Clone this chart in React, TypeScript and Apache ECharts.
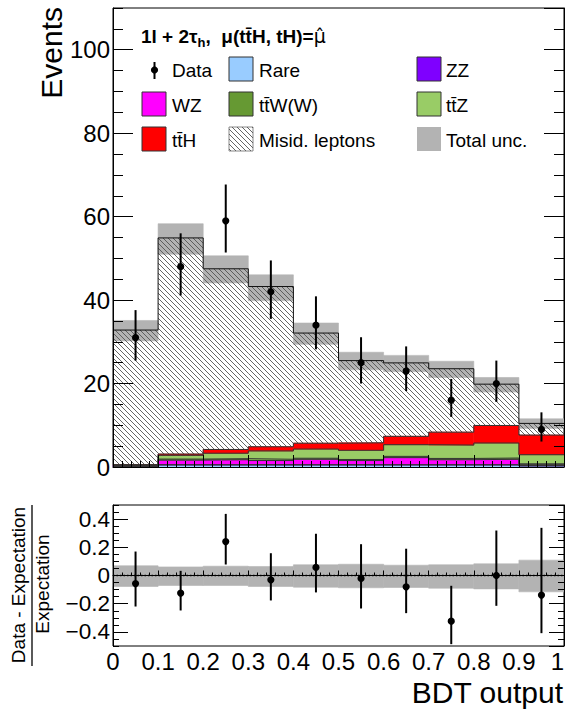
import React, { useEffect, useRef } from 'react';
import * as echarts from 'echarts';

// ---------------- data ----------------
const binEdges = [0, 0.1, 0.2, 0.3, 0.4, 0.5, 0.6, 0.7, 0.8, 0.9, 1.0];

// stacked backgrounds (bottom -> top)
const rare = [0.1, 0.5, 0.5, 0.5, 0.5, 0.5, 0.5, 0.5, 0.5, 0.25];
const zz = [0.05, 0.05, 0.05, 0.05, 0.05, 0.05, 0.05, 0.05, 0.05, 0.1];
const wz = [0.25, 1.1, 1.2, 1.0, 1.3, 1.0, 1.7, 1.2, 1.3, 0.3];
const ttw = [0.05, 0.25, 0.25, 0.3, 0.25, 0.25, 0.3, 0.3, 0.3, 0.1];
const ttz = [0.05, 0.9, 1.3, 2.0, 2.2, 2.2, 2.8, 3.2, 3.6, 2.2];
const tth = [0.02, 0.3, 0.9, 1.0, 1.4, 1.8, 2.0, 3.1, 4.2, 4.7];
const misid = [32.3, 51.8, 43.3, 38.4, 26.4, 19.7, 17.6, 15.2, 9.9, 2.8];

// total uncertainty on the expectation (events)
const uncUp = [2.3, 3.4, 3.1, 2.8, 2.4, 2.0, 1.8, 1.8, 1.6, 1.1];
const uncDown = [2.6, 3.9, 3.4, 3.4, 2.7, 2.2, 2.1, 2.1, 1.9, 1.2];

// observed data
const dataObs = [31, 48, 59, 42, 34, 25, 23, 16, 20, 9];
const dataErrLow = [5.5, 6.9, 7.6, 6.5, 5.8, 5.0, 4.8, 4.0, 4.4, 2.9];
const dataErrHigh = [6.6, 8.0, 8.7, 7.5, 6.9, 6.1, 5.9, 5.1, 5.5, 4.1];

// ratio panel: (data - expectation) / expectation
const ratioVal = [-0.057, -0.125, 0.241, -0.031, 0.057, -0.021, -0.08, -0.324, 0.0, -0.139];
const ratioHi = [0.17, 0.033, 0.437, 0.158, 0.296, 0.222, 0.19, -0.073, 0.319, 0.338];
const ratioLo = [-0.22, -0.248, 0.078, -0.177, -0.12, -0.234, -0.267, -0.487, -0.215, -0.409];
const ratioBandUp = [0.069, 0.061, 0.066, 0.064, 0.076, 0.08, 0.073, 0.076, 0.083, 0.109];
const ratioBandDown = [0.078, 0.071, 0.071, 0.078, 0.083, 0.087, 0.085, 0.09, 0.095, 0.116];

const layerNames = ['Rare', 'ZZ', 'WZ', 'ttW', 'ttZ', 'ttH', 'Misid'];
const layerValues = [rare, zz, wz, ttw, ttz, tth, misid];
const layerColors = ['#99ccff', '#7f00ff', '#ff00ff', '#669933', '#99cc66', '#ff0000', 'HATCH'];

const FONT = '"Liberation Sans", Arial, Helvetica, sans-serif';
const BAND = '#b3b3b3';

function makeHatch(): HTMLCanvasElement {
  const c = document.createElement('canvas');
  c.width = 5;
  c.height = 5;
  const ctx = c.getContext('2d')!;
  ctx.strokeStyle = '#555';
  ctx.lineWidth = 0.9;
  ctx.beginPath();
  ctx.moveTo(-1, -1);
  ctx.lineTo(6, 6);
  ctx.moveTo(-1, 4);
  ctx.lineTo(1, 6);
  ctx.moveTo(4, -1);
  ctx.lineTo(6, 1);
  ctx.stroke();
  return c;
}

export default function App() {
  const ref = useRef<HTMLDivElement>(null);

  useEffect(() => {
    const chart = echarts.init(ref.current!, null, { renderer: 'svg' });
    const hatch = { image: makeHatch(), repeat: 'repeat' };
    const nBins = dataObs.length;
    const centers = binEdges.slice(0, nBins).map((e, i) => (e + binEdges[i + 1]) / 2);

    // cumulative stack
    const cumLow: number[][] = [];
    const cumHigh: number[][] = [];
    let running = new Array(nBins).fill(0);
    layerValues.forEach((vals) => {
      cumLow.push(running.slice());
      running = running.map((r, i) => r + vals[i]);
      cumHigh.push(running.slice());
    });
    const total = running;

    const rectRender = (fill: any, seam: boolean) => (params: any, api: any) => {
      const p0 = api.coord([api.value(0), api.value(2)]);
      const p1 = api.coord([api.value(1), api.value(3)]);
      return {
        type: 'rect',
        shape: { x: p0[0], y: p1[1], width: p1[0] - p0[0], height: p0[1] - p1[1] },
        style: seam ? { fill, stroke: fill, lineWidth: 0.6 } : { fill },
      };
    };

    const pointRender = (lw: number, r: number) => (params: any, api: any) => {
      const c = api.coord([api.value(0), api.value(1)]);
      const lo = api.coord([api.value(0), api.value(2)]);
      const hi = api.coord([api.value(0), api.value(3)]);
      return {
        type: 'group',
        children: [
          { type: 'line', shape: { x1: lo[0], y1: lo[1], x2: hi[0], y2: hi[1] }, style: { stroke: '#000', lineWidth: lw } },
          { type: 'circle', shape: { cx: c[0], cy: c[1], r }, style: { fill: '#000' } },
        ],
      };
    };

    const series: any[] = [];

    // main uncertainty band (below the stack so hatching shows through)
    series.push({
      type: 'custom',
      xAxisIndex: 0,
      yAxisIndex: 0,
      z: 1,
      silent: true,
      renderItem: rectRender(BAND, true),
      encode: { x: [0, 1], y: [2, 3] },
      data: total.map((t, i) => [binEdges[i], binEdges[i + 1], t - uncDown[i], t + uncUp[i]]),
    });

    // stacked layers
    layerValues.forEach((vals, k) => {
      const fill = layerColors[k] === 'HATCH' ? hatch : layerColors[k];
      series.push({
        type: 'custom',
        name: layerNames[k],
        xAxisIndex: 0,
        yAxisIndex: 0,
        z: 2,
        silent: true,
        renderItem: rectRender(fill, layerColors[k] !== 'HATCH'),
        encode: { x: [0, 1], y: [2, 3] },
        data: vals.map((v, i) => [binEdges[i], binEdges[i + 1], cumLow[k][i], cumHigh[k][i]]),
      });
    });

    // step outlines at the top of each layer
    layerValues.forEach((vals, k) => {
      const pts = cumHigh[k].map((v, i) => [binEdges[i], v]);
      pts.push([binEdges[nBins], cumHigh[k][nBins - 1]]);
      series.push({
        type: 'line',
        xAxisIndex: 0,
        yAxisIndex: 0,
        z: 3,
        silent: true,
        step: 'end',
        symbol: 'none',
        lineStyle: { color: k === layerValues.length - 1 ? '#111' : '#333', width: 1 },
        data: pts,
      });
    });

    // data points
    series.push({
      type: 'custom',
      xAxisIndex: 0,
      yAxisIndex: 0,
      z: 6,
      silent: true,
      renderItem: pointRender(2, 3.6),
      encode: { x: 0, y: [1, 2, 3] },
      data: dataObs.map((d, i) => [centers[i], d, d - dataErrLow[i], d + dataErrHigh[i]]),
    });

    // ratio band
    series.push({
      type: 'custom',
      xAxisIndex: 1,
      yAxisIndex: 4,
      z: 1,
      silent: true,
      renderItem: rectRender(BAND, true),
      encode: { x: [0, 1], y: [2, 3] },
      data: ratioBandUp.map((u, i) => [binEdges[i], binEdges[i + 1], -ratioBandDown[i], u]),
    });

    // dotted zero line
    series.push({
      type: 'line',
      xAxisIndex: 1,
      yAxisIndex: 4,
      z: 3,
      silent: true,
      symbol: 'none',
      lineStyle: { color: '#000', width: 1.5, type: [1.5, 2] },
      data: [[binEdges[0], 0], [binEdges[nBins], 0]],
    });

    // ratio points
    series.push({
      type: 'custom',
      xAxisIndex: 1,
      yAxisIndex: 4,
      z: 6,
      silent: true,
      renderItem: pointRender(2, 3.6),
      encode: { x: 0, y: [1, 2, 3] },
      data: ratioVal.map((r, i) => [centers[i], r, ratioLo[i], ratioHi[i]]),
    });

    const blackLine = { show: true, lineStyle: { color: '#000', width: 1 } };
    const minus = (v: number) => {
      const s = String(Math.round(v * 10) / 10);
      return s.replace('-', '\u2212');
    };

    const yMain = (position: string, labels: boolean) => ({
      type: 'value',
      gridIndex: 0,
      position,
      min: 0,
      max: 110,
      interval: 20,
      z: 10,
      axisLine: blackLine,
      axisTick: { show: true, inside: true, length: 20, lineStyle: { color: '#000' } },
      axisLabel: {
        show: labels,
        showMaxLabel: false,
        fontSize: 24,
        fontFamily: FONT,
        color: '#000',
        margin: 3,
      },
      splitLine: { show: false },
    });
    const yMainMinor = (position: string) => ({
      type: 'value',
      gridIndex: 0,
      position,
      min: 0,
      max: 110,
      interval: 5,
      z: 10,
      axisLine: { show: false },
      axisTick: { show: true, inside: true, length: 10, lineStyle: { color: '#000' } },
      axisLabel: { show: false },
      splitLine: { show: false },
    });
    const yRatio = (position: string, labels: boolean) => ({
      type: 'value',
      gridIndex: 1,
      position,
      min: -0.5,
      max: 0.5,
      splitNumber: 5,
      z: 10,
      axisLine: blackLine,
      axisTick: { show: true, inside: true, length: 15, lineStyle: { color: '#000' } },
      axisLabel: {
        show: labels,
        showMinLabel: false,
        showMaxLabel: false,
        fontSize: 22.5,
        fontFamily: FONT,
        color: '#000',
        margin: 3,
        formatter: minus,
      },
      splitLine: { show: false },
    });
    const yRatioMinor = (position: string) => ({
      type: 'value',
      gridIndex: 1,
      position,
      min: -0.5,
      max: 0.5,
      interval: 0.05,
      z: 10,
      axisLine: { show: false },
      axisTick: { show: true, inside: true, length: 6, lineStyle: { color: '#000' } },
      axisLabel: { show: false },
      splitLine: { show: false },
    });

    // legend graphics
    const colX = [142, 229, 417];
    const txtX = [172, 259, 446];
    const rowY = [69, 104, 139];
    const legendItems = [
      { label: 'Data', kind: 'data', col: 0, row: 0 },
      { label: 'Rare', kind: 'box', fill: layerColors[0], col: 1, row: 0 },
      { label: 'ZZ', kind: 'box', fill: layerColors[1], col: 2, row: 0 },
      { label: 'WZ', kind: 'box', fill: layerColors[2], col: 0, row: 1 },
      { label: 'tt\u0304W(W)', kind: 'box', fill: layerColors[3], col: 1, row: 1 },
      { label: 'tt\u0304Z', kind: 'box', fill: layerColors[4], col: 2, row: 1 },
      { label: 'tt\u0304H', kind: 'box', fill: layerColors[5], col: 0, row: 2 },
      { label: 'Misid. leptons', kind: 'hatch', col: 1, row: 2 },
      { label: 'Total unc.', kind: 'band', col: 2, row: 2 },
    ];
    const graphics: any[] = [];
    legendItems.forEach((it: any) => {
      const bx = colX[it.col];
      const cy = rowY[it.row];
      if (it.kind === 'data') {
        graphics.push({ type: 'line', shape: { x1: bx + 12.5, y1: cy - 7, x2: bx + 12.5, y2: cy + 10 }, style: { stroke: '#000', lineWidth: 2 } });
        graphics.push({ type: 'circle', shape: { cx: bx + 12.5, cy: cy + 1, r: 3.6 }, style: { fill: '#000' } });
      } else if (it.kind === 'box') {
        graphics.push({ type: 'rect', shape: { x: bx, y: cy - 12, width: 24, height: 24 }, style: { fill: it.fill, stroke: '#333', lineWidth: 1 } });
      } else if (it.kind === 'hatch') {
        graphics.push({ type: 'rect', shape: { x: bx, y: cy - 12, width: 24, height: 24 }, style: { fill: '#fff', stroke: '#888', lineWidth: 1 } });
        graphics.push({ type: 'rect', shape: { x: bx, y: cy - 12, width: 24, height: 24 }, style: { fill: hatch } });
      } else {
        graphics.push({ type: 'rect', shape: { x: bx, y: cy - 12, width: 24, height: 24 }, style: { fill: BAND } });
      }
      graphics.push({
        type: 'text',
        x: txtX[it.col],
        y: cy + 1,
        style: {
          text: it.label,
          fontSize: 19,
          fontFamily: FONT,
          fill: '#000',
          align: 'left',
          verticalAlign: 'middle',
          textAlign: 'left',
          textVerticalAlign: 'middle',
        },
      });
    });

    // title
    graphics.push({
      type: 'text',
      x: 141,
      y: 36,
      style: {
        text: '{b|1l + 2\u03c4}{s|h}{b|,  \u03bc(tt\u0304H, tH)=}{g|\u03bc\u0302}',
        align: 'left',
        verticalAlign: 'middle',
        textAlign: 'left',
        textVerticalAlign: 'middle',
        rich: {
          b: { fontSize: 19, fontWeight: 'bold', fontFamily: FONT, fill: '#000', color: '#000', lineHeight: 26 },
          s: { fontSize: 13, fontWeight: 'bold', fontFamily: FONT, fill: '#000', color: '#000', lineHeight: 26, verticalAlign: 'bottom' },
          g: { fontSize: 19, fontFamily: '"DejaVu Sans", sans-serif', fill: '#000', color: '#000', lineHeight: 26 },
        },
      },
    });

    // axis titles
    graphics.push({
      type: 'text',
      x: 51.5,
      y: 7,
      rotation: Math.PI / 2,
      style: { text: 'Events', fontSize: 30, fontFamily: FONT, fill: '#000', align: 'right', verticalAlign: 'middle', textAlign: 'right', textVerticalAlign: 'middle' },
    });
    graphics.push({
      type: 'text',
      x: 563,
      y: 692.5,
      style: { text: 'BDT output', fontSize: 30, fontFamily: FONT, fill: '#000', align: 'right', verticalAlign: 'middle', textAlign: 'right', textVerticalAlign: 'middle' },
    });
    graphics.push({
      type: 'text',
      x: 18.4,
      y: 585,
      rotation: Math.PI / 2,
      style: { text: 'Data - Expectation', fontSize: 19, fontFamily: FONT, fill: '#000', align: 'center', verticalAlign: 'middle', textAlign: 'center', textVerticalAlign: 'middle' },
    });
    graphics.push({
      type: 'line',
      shape: { x1: 32, y1: 505, x2: 32, y2: 666 },
      style: { stroke: '#000', lineWidth: 1.3 },
    });
    graphics.push({
      type: 'text',
      x: 42.7,
      y: 584,
      rotation: Math.PI / 2,
      style: { text: 'Expectation', fontSize: 19, fontFamily: FONT, fill: '#000', align: 'center', verticalAlign: 'middle', textAlign: 'center', textVerticalAlign: 'middle' },
    });

    const option: any = {
      animation: false,
      backgroundColor: '#fff',
      textStyle: { fontFamily: FONT },
      grid: [
        { left: 113, top: 8, width: 451, height: 459, show: true, borderColor: '#000', borderWidth: 1, backgroundColor: 'transparent', outerBoundsMode: 'none', containLabel: false },
        { left: 113, top: 505, width: 451, height: 141, show: true, borderColor: '#000', borderWidth: 1, backgroundColor: 'transparent', outerBoundsMode: 'none', containLabel: false },
      ],
      xAxis: [
        {
          type: 'value',
          gridIndex: 0,
          min: 0,
          max: 1,
          interval: 0.1,
          z: 10,
          axisLine: blackLine,
          axisTick: { show: true, inside: true, length: 12, lineStyle: { color: '#000' } },
          minorTick: { show: true, splitNumber: 5, length: 6, lineStyle: { color: '#000' } },
          axisLabel: { show: false },
          splitLine: { show: false },
        },
        {
          type: 'value',
          gridIndex: 1,
          min: 0,
          max: 1,
          interval: 0.1,
          z: 10,
          axisLine: blackLine,
          axisTick: { show: true, inside: true, length: 5, lineStyle: { color: '#000' } },
          minorTick: { show: true, splitNumber: 5, length: 3, lineStyle: { color: '#000' } },
          axisLabel: { show: true, fontSize: 24, fontFamily: FONT, color: '#000', margin: 3, alignMaxLabel: 'right' },
          splitLine: { show: false },
        },
      ],
      yAxis: [
        yMain('left', true),
        yMainMinor('left'),
        yMain('right', false),
        yMainMinor('right'),
        yRatio('left', true),
        yRatioMinor('left'),
        yRatio('right', false),
        yRatioMinor('right'),
      ],
      series,
      graphic: graphics,
    };

    chart.setOption(option);
    return () => chart.dispose();
  }, []);

  return <div ref={ref} style={{ position: 'absolute', left: 0, top: 0, width: 568, height: 709 }} />;
}
